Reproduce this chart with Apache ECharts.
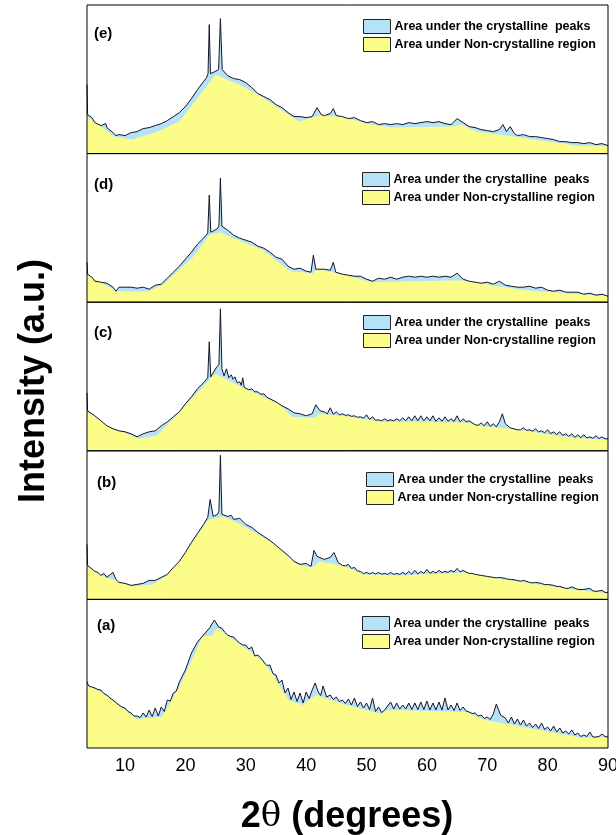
<!DOCTYPE html>
<html>
<head>
    <meta charset="utf-8">
    <title>XRD crystallinity</title>
    <script src="https://cdn.jsdelivr.net/npm/echarts@6/dist/echarts.min.js"></script>
</head>
<body style="margin:0">
    <div id="main" style="width: 616px;height:835px;"></div>
    <script type="text/javascript">
        // panels from top to bottom: (e) (d) (c) (b) (a)
        var panelLabels = ["(e)", "(d)", "(c)", "(b)", "(a)"];
        var legendNames = ["Area under the crystalline  peaks", "Area under Non-crystalline region"];
        var xTicks = [10, 20, 30, 40, 50, 60, 70, 80, 90];

        // measured pattern (black line), [2theta, intensity]
        var totalE = [[3.7,69],[3.8,39],[4.5,36],[5,31],[6,28],[6.8,30],[7,26],[8,21],[8.5,18],[9,19],[10,18],[11,21],[12,22],[13,25],[14,26],[15,28],[16,30],[17,33],[18,37],[19,41],[20,47],[21,55],[22,64],[23,72],[23.5,76],[23.75,80],[23.95,129],[24.15,80],[24.9,82],[25.5,84],[25.8,135],[26.1,84],[27,78],[28,75],[29,74],[30,71],[31,66],[32,60],[33,57],[34,54],[35,49],[36,46],[37,41],[38,37],[39,37],[40,36],[41,37],[41.8,46],[42.5,39],[43,38],[44,40],[44.5,45],[45,38],[46,37],[47,35],[48,36],[49,33],[50,31],[51,32],[52,29],[53,30],[54,29],[55,30],[56,29],[57,31],[58,30],[59,31],[60,32],[61,31],[62,32],[63,30],[64,29],[65,35],[66,31],[67,27],[68,26],[69,24],[70,23],[71,22],[72,24],[72.6,29],[73.2,22],[73.8,27],[74.5,20],[75,18],[76,19],[77,17],[78,17],[79,16],[80,15],[81,14],[82,12],[83,12],[84,11],[85,11],[86,10],[87,11],[88,9],[89,10],[90,8]];
        var totalD = [[3.7,40],[3.8,28],[4.5,25],[5,21],[6,20],[7,19],[8,15],[8.5,11],[9,15],[10,15],[11,15],[12,14],[13,15],[14,13],[15,17],[16,18],[17,24],[18,30],[19,36],[20,43],[21,50],[22,58],[23,64],[23.7,69],[23.95,107],[24.2,70],[25.2,73],[25.55,76],[25.8,124],[26.05,76],[27,72],[28,67],[29,64],[30,62],[31,60],[32,56],[33,54],[34,50],[35,45],[36,43],[37,36],[38,33],[39,34],[40,31],[40.8,30],[41.2,47],[41.6,33],[43,33],[44,32],[44.5,40],[44.9,30],[46,28],[47,27],[48,26],[49,26],[50,23],[51,21],[52,24],[53,23],[54,25],[55,23],[56,25],[57,26],[58,25],[59,26],[60,25],[61,26],[62,25],[63,26],[64,25],[65,29],[66,23],[67,21],[68,20],[69,19],[70,20],[71,18],[72,21],[73,17],[74,16],[75,15],[76,15],[77,16],[78,14],[79,15],[80,12],[81,11],[82,12],[83,10],[84,10],[85,10],[86,8],[87,9],[88,7],[89,8],[90,6]];
        var totalC = [[3.7,58],[3.8,40],[4,40],[5,35],[6,30],[7,25],[8,22],[9,20],[10,19],[11,17],[12,14],[13,17],[14,19],[15,20],[16,25],[17,29],[18,34],[19,39],[20,47],[21,54],[22,62],[23,68],[23.7,73],[23.95,109],[24.2,74],[25.2,84],[25.55,86],[25.8,142],[26.05,82],[26.4,75],[26.8,82],[27.2,73],[27.6,76],[27.9,71.5],[28.2,74],[28.6,68],[29,69],[29.25,65.5],[29.5,73],[29.75,63.5],[30,65],[30.5,61],[31,62],[31.5,59],[32,59],[32.5,56.5],[33,57],[33.5,53.5],[34,52],[34.5,50.5],[35,49],[35.5,47],[36,45],[37,42],[38,38],[39,37],[40,35],[41,37],[41.6,46],[42.3,40],[43,39],[43.5,37],[44,43],[44.5,36.5],[45,39],[45.5,36],[46,37],[46.5,35.5],[47,36],[47.5,34.5],[48,35],[48.5,33.5],[49,34],[49.5,32.5],[50,36],[50.5,31.5],[51,34],[51.5,30.5],[52,31],[52.5,30],[53,32],[53.5,30],[54,31],[54.5,30],[55,32],[55.5,30],[56,33],[56.5,30],[57,34],[57.5,30],[58,35],[58.5,30],[59,35],[59.5,30],[60,34],[60.5,30],[61,35],[61.5,29.5],[62,33],[62.5,29.5],[63,34],[63.5,29.5],[64,32],[64.5,29.5],[65,35],[65.5,29],[66,32],[66.5,29],[67,30],[68,26],[68.5,25.5],[69,28],[69.5,25],[70,29],[70.5,24.5],[71,27],[71.5,24],[72,29],[72.5,37],[73,27],[73.8,23],[75,21],[75.5,21],[76,23],[76.5,20.5],[77,21],[77.5,19.8],[78,22],[78.5,19],[79,20],[79.5,18],[80,21],[80.5,17.2],[81,19],[81.5,16.3],[82,19],[82.5,15.5],[83,17],[83.5,14.5],[84,17],[84.5,13.5],[85,16],[85.5,13.2],[86,16],[86.5,12.8],[87,14],[87.5,12.5],[88,15],[88.5,12.2],[89,14],[89.5,12],[90,12]];
        var totalB = [[3.7,55],[3.8,34],[4,34],[5,28],[5.5,27],[6,24],[6.5,26],[7,22],[8,27],[8.5,20],[9,17],[10,16],[11,14],[12,15],[13,16],[14,19],[15,19],[16,22],[17,25],[18,32],[19,38],[20,47],[21,57],[22,66],[23,75],[23.7,82],[24.1,100],[24.6,83],[25.3,85],[25.55,88],[25.8,144],[26.05,85],[27,83],[27.6,84],[28,80],[29,81],[30,75],[31,72],[32,67],[33,63],[34,59],[35,54],[36,49],[37,44],[38,38],[39,35],[40,36],[40.8,33],[41.3,49],[41.8,43],[43,40],[44,42],[44.6,47],[45.3,37],[46,34],[46.5,33.5],[47,35],[47.5,31],[48,32],[48.5,28.5],[49,28],[49.5,25.8],[50,27],[50.5,25.5],[51,27],[51.5,25.3],[52,27],[52.5,25.2],[53,26],[53.5,25],[54,27],[54.5,25],[55,26],[55.5,25],[56,27],[56.5,25],[57,28],[57.5,25.3],[58,29],[58.5,25.5],[59,28],[59.5,26],[60,30],[60.5,26.2],[61,28],[61.5,26.5],[62,29],[62.5,26.8],[63,28],[63.5,27],[64,29],[64.5,27.3],[65,31],[65.5,27.6],[66,29],[66.5,27.3],[67,26],[67.5,26],[68,25],[69,24],[70,23],[71,22],[71.5,21.6],[72,22],[73,21],[73.5,20],[74,20],[75,19],[75.5,18.2],[76,19],[77,17],[77.5,16.5],[78,17],[79,16],[79.5,14.8],[80,15],[81,14],[81.5,13],[82,13],[83,11],[83.5,11.2],[84,12.5],[85,10],[85.5,9.8],[86,10],[87,11],[87.5,8.5],[88,8],[89,9],[89.5,7],[90,7]];
        var totalA = [[3.7,66],[4,62],[4.5,61],[5,60],[5.5,58.5],[6,58],[6.5,54.5],[7,53],[7.5,50],[8,48],[8.5,45.5],[9,43],[9.5,41],[10,40],[10.5,36.5],[11,35],[11.5,32],[12,32],[12.5,30.5],[13,35],[13.5,31],[14,38],[14.5,31.5],[15,40],[15.5,32],[16,41],[16.5,36.5],[17,48],[17.5,47],[18,55],[18.5,57],[19,66],[20,78],[21,95],[22,106],[23,113],[24,120],[24.8,128],[25.5,121],[26,120],[26.5,116],[27,113],[27.5,111.5],[28,111],[28.5,107.5],[29,105],[29.5,103],[30,103],[30.5,99],[31,101],[31.5,92],[32,93],[32.5,90],[33,86],[33.5,82.5],[34,83],[34.5,74.5],[35,73],[35.5,65],[36,68],[36.5,55],[37,60],[37.5,48.5],[38,56],[38.5,46.5],[39,55],[39.5,45],[40,56],[40.5,49.5],[41,58],[41.5,65],[42,56],[42.4,52.5],[42.8,62],[43.4,51],[44,53],[44.5,48.5],[45,51],[45.5,46.5],[46,48],[46.5,44.5],[47,49],[47.5,43],[48,50],[48.5,41.5],[49,46],[49.5,40],[50,45],[50.5,38.5],[51,50],[51.5,36.5],[52,41],[52.5,35.5],[53,38],[54,46],[54.5,39],[55,45],[55.5,39],[56,43],[56.5,39],[57,45],[57.5,38.5],[58,45],[58.5,38.5],[59,46],[59.5,38.5],[60,47],[60.5,38],[61,45],[61.5,38],[62,46],[62.5,38],[63,50],[63.5,38],[64,43],[64.5,37.5],[65,45],[65.5,37.5],[66,41],[66.5,37],[67,36],[67.5,34.5],[68,35],[68.5,32],[69,33],[69.5,29.5],[70,31],[70.5,28.5],[71,34],[71.5,44],[72.2,33],[73,30],[73.5,25],[74,31],[74.5,24],[75,29],[75.5,23],[76,28],[76.5,22],[77,25],[77.5,20.5],[78,24],[78.5,19.5],[79,25],[79.5,18.5],[80,21],[80.5,17],[81,22],[81.5,16],[82,20],[82.5,15],[83,17],[83.5,14],[84,18],[84.5,13],[85,15],[85.5,11.5],[86,13],[86.5,11.5],[87,16],[87.5,11],[88,11],[88.5,11.5],[89,14],[89.5,11.5],[90,11]];

        // amorphous background (yellow), [2theta, intensity]
        var baseE = [[3.7,37],[8.2,17],[11.1,14],[15,21],[19,32],[25,79],[29.2,68],[32,59],[38.8,32],[42.2,38],[45.6,37],[50.7,29],[54,26],[64.3,27],[65.7,29],[68.2,22],[74.4,17],[84.6,8],[90,7]];
        var baseD = [[3.7,28],[8.5,11],[13.9,11],[16.4,18],[21.2,45],[24.1,68],[25.8,70],[27.5,65],[32.6,53],[37.4,31],[41.1,29],[41.9,33],[45.9,28],[51,20],[65.4,22],[76.2,12],[90,6]];
        var baseC = [[3.7,39],[7.1,25],[12.2,12],[15.3,15],[19.5,42],[24.9,77],[29.2,64],[35.4,47],[37.7,34],[41.6,33],[41.9,37],[46.1,35],[52.4,29],[59.1,29],[67,28],[68.2,25],[73.9,22],[84,13],[90,11]];
        var baseB = [[3.7,33],[6,24],[11.3,13],[14.5,15],[17,24],[19,38],[23.8,80],[26.3,83],[29.2,75],[34.3,57],[38.5,35],[41.1,32],[42.2,38],[46.1,34],[49.5,25],[55.7,24],[66.2,27],[70.5,22],[83,11],[90,6]];
        var baseA = [[3.7,63],[6,56],[11.9,29],[16.1,31],[19,61],[22.9,112],[24.4,112],[25.2,120],[29.2,103],[32.6,88],[34.3,75],[37.1,48],[39.4,43],[41.6,53],[46.1,44],[52.4,34],[53.5,38],[66.5,36],[69.6,28],[85.8,10],[90,11]];

        var totals = [totalE, totalD, totalC, totalB, totalA];
        var bases = [baseE, baseD, baseC, baseB, baseA];

        var BLUE = "#b6e2f7";
        var YELLOW = "#fcfc88";
        var FONT = "Liberation Sans, Arial, sans-serif";
        var panelTop = 5, panelH = 148.6;
        var legendPos = [[363, 19], [362, 172], [363, 315], [366, 472], [362, 616]];
        var labelPos = [[94, 26], [94, 177], [94, 325], [97, 475], [97, 618]];

        var myChart = echarts.init(document.getElementById('main'));

        var grid = [], xAxis = [], yAxis = [], series = [], legend = [], title = [];
        for (var i = 0; i < 5; i++) {
            grid.push({
                left: 87, right: 8, top: panelTop + i * panelH, height: panelH,
                outerBoundsMode: "none", containLabel: false,
                show: true, z: 10, backgroundColor: "transparent",
                borderColor: "#000", borderWidth: 1
            });
            var last = i === 4;
            xAxis.push({
                type: "value", gridIndex: i, min: 3.7, max: 90,
                axisLine: { show: false }, axisTick: { show: false },
                splitLine: { show: false },
                axisLabel: {
                    show: last, customValues: xTicks, margin: 9,
                    color: "#000", fontSize: 18, fontFamily: FONT,
                    showMinLabel: true, showMaxLabel: true, hideOverlap: false
                }
            });
            yAxis.push({
                type: "value", gridIndex: i, min: 0, max: panelH, show: false
            });
            series.push({
                name: legendNames[0], type: "line", xAxisIndex: i, yAxisIndex: i,
                data: totals[i], symbol: "none", lineStyle: { width: 0 },
                areaStyle: { color: BLUE, opacity: 1 }, z: 1, silent: true
            });
            series.push({
                name: legendNames[1], type: "line", xAxisIndex: i, yAxisIndex: i,
                data: bases[i], symbol: "none", lineStyle: { width: 0 },
                areaStyle: { color: YELLOW, opacity: 1 }, z: 2, silent: true
            });
            series.push({
                type: "line", xAxisIndex: i, yAxisIndex: i,
                data: totals[i], symbol: "none",
                lineStyle: { color: "#15152a", width: 1 }, z: 3, silent: true
            });
            legend.push({
                orient: "vertical", left: legendPos[i][0], top: legendPos[i][1],
                padding: 0, itemWidth: 27, itemHeight: 14, itemGap: 3,
                icon: "rect", selectedMode: false,
                data: [
                    { name: legendNames[0], itemStyle: { color: BLUE, borderColor: "#222", borderWidth: 1 } },
                    { name: legendNames[1], itemStyle: { color: YELLOW, borderColor: "#222", borderWidth: 1 } }
                ],
                textStyle: { color: "#000", fontFamily: FONT, fontWeight: "bold", fontSize: 12.5, padding: [0, 0, 0, -1] }
            });
            title.push({
                text: panelLabels[i], left: labelPos[i][0], top: labelPos[i][1], padding: 0,
                textStyle: { color: "#000", fontFamily: FONT, fontWeight: "bold", fontSize: 15 }
            });
        }

        var option = {
            backgroundColor: "#fff",
            animation: false,
            title: title,
            legend: legend,
            grid: grid,
            xAxis: xAxis,
            yAxis: yAxis,
            series: series,
            graphic: [
                {
                    type: "text", x: 34, y: 381, rotation: Math.PI / 2,
                    style: {
                        text: "Intensity (a.u.)", fill: "#000",
                        font: "bold 36px " + FONT,
                        textAlign: "center", textVerticalAlign: "middle"
                    }
                },
                {
                    type: "text", x: 347, y: 817,
                    style: {
                        text: "{a|2}{b|θ}{a| (degrees)}",
                        textAlign: "center", textVerticalAlign: "middle",
                        rich: {
                            a: { fontFamily: FONT, fontWeight: "bold", fontSize: 36, fill: "#000", color: "#000" },
                            b: { fontFamily: "DejaVu Serif, serif", fontWeight: "normal", fontSize: 34, fill: "#000", color: "#000" }
                        }
                    }
                }
            ]
        };
        myChart.setOption(option);
    </script>
</body>
</html>
